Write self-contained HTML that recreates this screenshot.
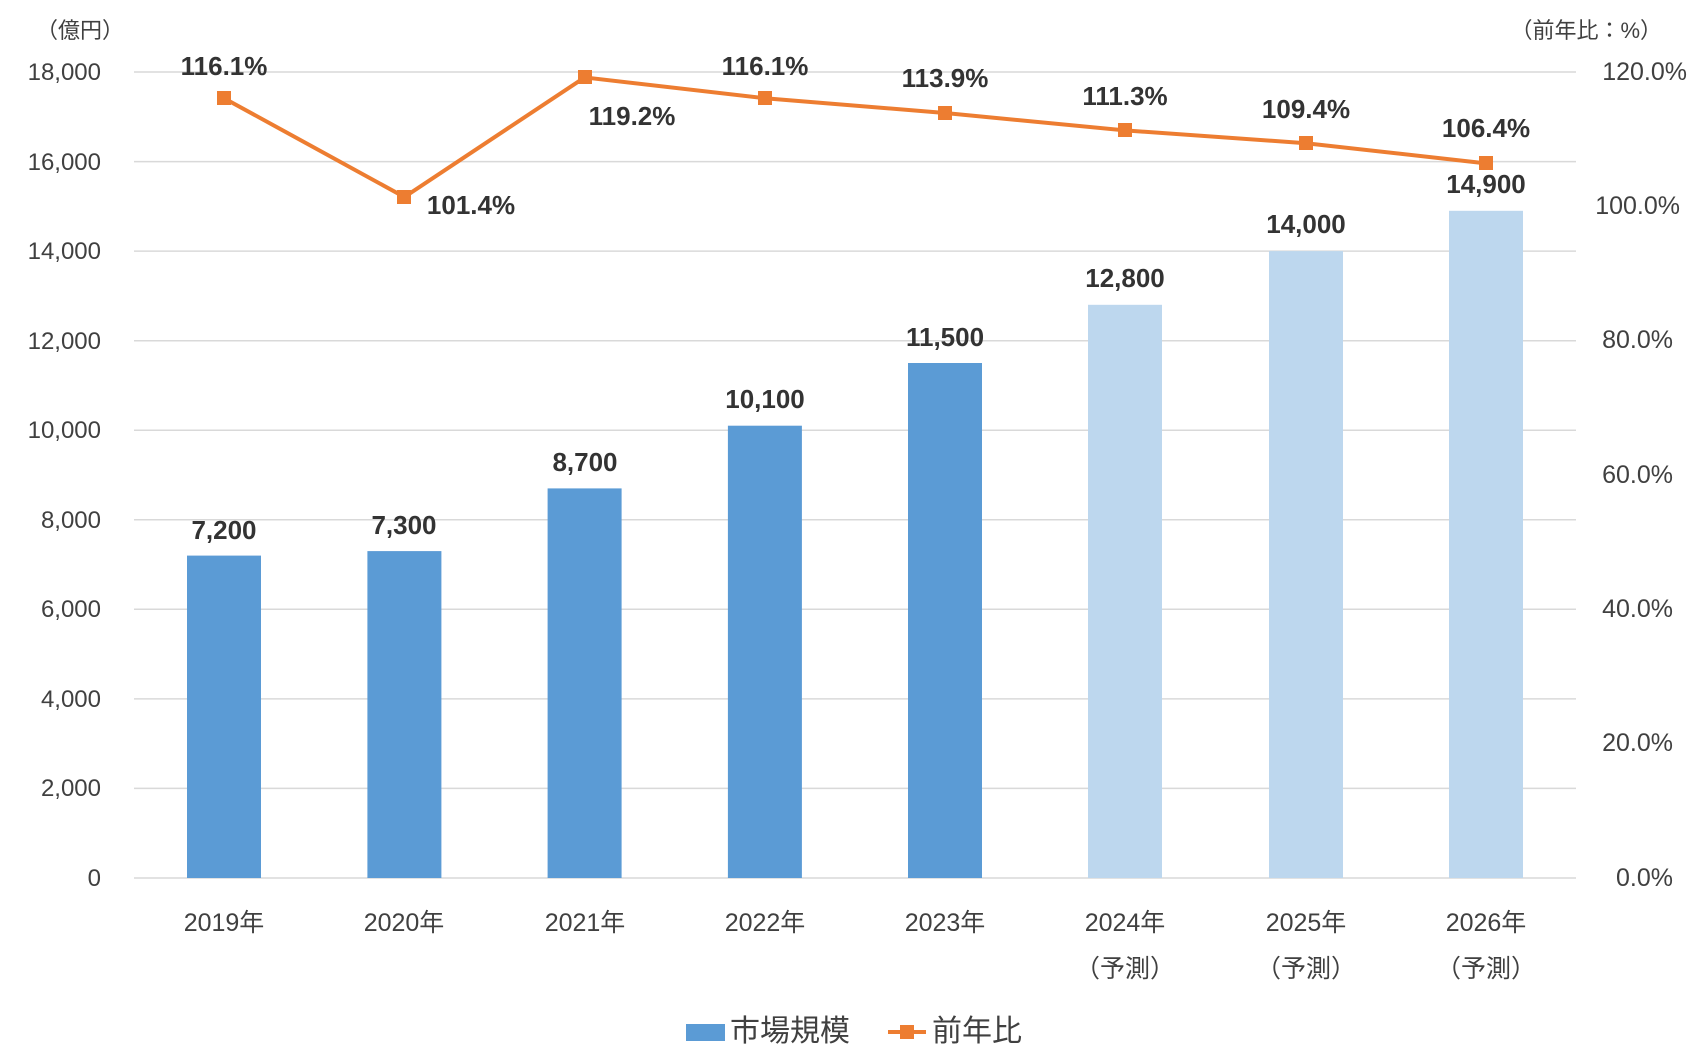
<!DOCTYPE html>
<html><head><meta charset="utf-8"><style>
body{margin:0;background:#fff}
svg{display:block}
text{font-family:"Liberation Sans","Noto Sans CJK JP",sans-serif}
</style></head><body>
<svg width="1700" height="1060" xmlns="http://www.w3.org/2000/svg">
<g stroke="#d9d9d9" stroke-width="1.5">
<line x1="134" x2="1576" y1="72" y2="72"/><line x1="134" x2="1576" y1="161.6" y2="161.6"/>
<line x1="134" x2="1576" y1="251.1" y2="251.1"/><line x1="134" x2="1576" y1="340.7" y2="340.7"/>
<line x1="134" x2="1576" y1="430.2" y2="430.2"/><line x1="134" x2="1576" y1="519.8" y2="519.8"/>
<line x1="134" x2="1576" y1="609.3" y2="609.3"/><line x1="134" x2="1576" y1="698.9" y2="698.9"/>
<line x1="134" x2="1576" y1="788.4" y2="788.4"/><line x1="134" x2="1576" y1="878" y2="878"/>
</g>
<g font-size="24" fill="#404040" text-anchor="end">
<text x="101" y="80">18,000</text><text x="101" y="170">16,000</text><text x="101" y="259">14,000</text>
<text x="101" y="349">12,000</text><text x="101" y="438">10,000</text><text x="101" y="528">8,000</text>
<text x="101" y="617">6,000</text><text x="101" y="707">4,000</text><text x="101" y="796">2,000</text>
<text x="101" y="886">0</text>
</g>
<g font-size="25" fill="#404040" text-anchor="end">
<text x="1687" y="80">120.0%</text><text x="1680" y="214">100.0%</text><text x="1673" y="348">80.0%</text>
<text x="1673" y="483">60.0%</text><text x="1673" y="617">40.0%</text><text x="1673" y="751">20.0%</text>
<text x="1673" y="886">0.0%</text>
</g>
<text x="36" y="38" font-size="22" fill="#404040">（億円）</text>
<text x="1662" y="38" font-size="22" fill="#404040" text-anchor="end">（前年比：%）</text>
<g fill="#5b9bd5">
<rect x="187" y="555.6" width="74" height="322.4"/>
<rect x="367.4" y="551.1" width="74" height="326.9"/>
<rect x="547.6" y="488.4" width="74" height="389.6"/>
<rect x="727.9" y="425.7" width="74" height="452.3"/>
<rect x="908" y="363" width="74" height="515"/>
</g>
<g fill="#bdd7ee">
<rect x="1088" y="304.8" width="74" height="573.2"/>
<rect x="1269" y="251.1" width="74" height="626.9"/>
<rect x="1449" y="210.8" width="74" height="667.2"/>
</g>
<g font-size="26" font-weight="bold" fill="#333" text-anchor="middle">
<text x="224" y="539">7,200</text><text x="404" y="534">7,300</text><text x="585" y="471">8,700</text>
<text x="765" y="408">10,100</text><text x="945" y="346">11,500</text><text x="1125" y="287">12,800</text>
<text x="1306" y="233">14,000</text><text x="1486" y="193">14,900</text>
</g>
<polyline fill="none" stroke="#ed7d31" stroke-width="4" points="224,98.2 404.4,197 584.6,77.4 764.9,98.2 945,113 1125,130.4 1306,143.2 1486,163.4"/>
<g fill="#ed7d31">
<rect x="217" y="91" width="14" height="14"/><rect x="397" y="190" width="14" height="14"/>
<rect x="578" y="70" width="14" height="14"/><rect x="758" y="91" width="14" height="14"/>
<rect x="938" y="106" width="14" height="14"/><rect x="1118" y="123" width="14" height="14"/>
<rect x="1299" y="136" width="14" height="14"/><rect x="1479" y="156" width="14" height="14"/>
</g>
<g font-size="26" font-weight="bold" fill="#333" text-anchor="middle">
<text x="224" y="75">116.1%</text><text x="471" y="214">101.4%</text><text x="632" y="125">119.2%</text>
<text x="765" y="75">116.1%</text><text x="945" y="87">113.9%</text><text x="1125" y="105">111.3%</text>
<text x="1306" y="118">109.4%</text><text x="1486" y="137">106.4%</text>
</g>
<g font-size="25" fill="#404040" text-anchor="middle">
<text x="224" y="931">2019年</text><text x="404" y="931">2020年</text><text x="585" y="931">2021年</text>
<text x="765" y="931">2022年</text><text x="945" y="931">2023年</text><text x="1125" y="931">2024年</text>
<text x="1306" y="931">2025年</text><text x="1486" y="931">2026年</text>
<text x="1125" y="977">（予測）</text><text x="1306" y="977">（予測）</text><text x="1486" y="977">（予測）</text>
</g>
<rect x="686" y="1024" width="39" height="17" fill="#5b9bd5"/>
<text x="730" y="1041" font-size="30" fill="#404040">市場規模</text>
<line x1="888" x2="926" y1="1032" y2="1032" stroke="#ed7d31" stroke-width="4"/>
<rect x="900" y="1025" width="14" height="14" fill="#ed7d31"/>
<text x="932" y="1041" font-size="30" fill="#404040">前年比</text>
</svg>
</body></html>
